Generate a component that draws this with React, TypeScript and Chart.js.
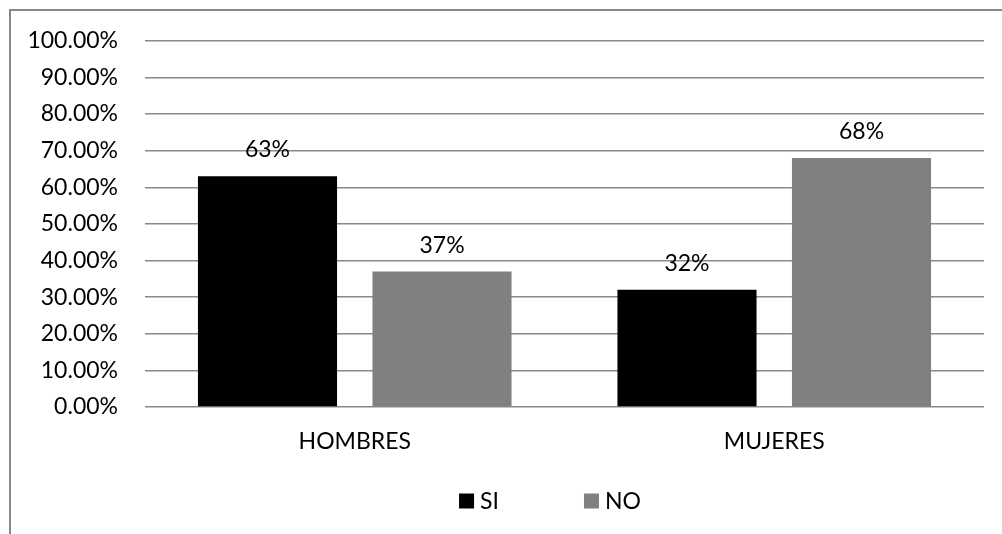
import React, { useEffect, useRef } from "react";
import { Chart, registerables } from "chart.js";

Chart.register(...registerables);

// Chart data
const categories = ["HOMBRES", "MUJERES"];
const seriesNames = ["SI", "NO"];
const siValues = [63, 32];
const noValues = [37, 68];
const seriesColors = ["#000000", "#808080"];
const yTickMax = 100;
const yTickStep = 10;

const FONT = "Lato, 'Open Sans', sans-serif";
const FONT_SIZE = 23;
const TEXT_COLOR = "#000000";
const GRID_COLOR = "#898989";

// Outer frame of the chart (left and top edges)
const framePlugin = {
  id: "frame",
  beforeDraw(chart: any) {
    const { ctx, width, height } = chart;
    ctx.save();
    ctx.strokeStyle = "#878787";
    ctx.lineWidth = 2;
    ctx.beginPath();
    ctx.moveTo(width, 10);
    ctx.lineTo(10, 10);
    ctx.lineTo(10, height);
    ctx.stroke();
    ctx.restore();
  },
};

// Percentage labels above each bar
const valueLabelPlugin = {
  id: "valueLabels",
  afterDatasetsDraw(chart: any) {
    const { ctx } = chart;
    ctx.save();
    ctx.font = `${FONT_SIZE}px ${FONT}`;
    ctx.fillStyle = TEXT_COLOR;
    ctx.textAlign = "center";
    ctx.textBaseline = "alphabetic";
    chart.data.datasets.forEach((ds: any, i: number) => {
      const meta = chart.getDatasetMeta(i);
      meta.data.forEach((bar: any, j: number) => {
        ctx.fillText(`${ds.data[j]}%`, bar.x, bar.y - 19);
      });
    });
    ctx.restore();
  },
};

// Legend row under the axis labels
const legendPlugin = {
  id: "bottomLegend",
  afterDraw(chart: any) {
    const { ctx } = chart;
    const datasets = chart.data.datasets;
    const box = 15;
    const textGap = 6;
    const itemGap = 85;
    const centerX = 550;
    ctx.save();
    ctx.font = `${FONT_SIZE}px ${FONT}`;
    ctx.textBaseline = "middle";
    ctx.textAlign = "left";
    const widths = datasets.map(
      (ds: any) => box + textGap + ctx.measureText(ds.label).width
    );
    const total =
      widths.reduce((a: number, b: number) => a + b, 0) +
      itemGap * (datasets.length - 1);
    let x = centerX - total / 2;
    const y = 501;
    datasets.forEach((ds: any, i: number) => {
      ctx.fillStyle = ds.backgroundColor;
      ctx.fillRect(x, y - box / 2, box, box);
      ctx.fillStyle = TEXT_COLOR;
      ctx.fillText(ds.label, x + box + textGap, y + 1);
      x += widths[i] + itemGap;
    });
    ctx.restore();
  },
};

export default function App() {
  const canvasRef = useRef<HTMLCanvasElement | null>(null);

  useEffect(() => {
    if (!canvasRef.current) return;
    const chart = new Chart(canvasRef.current, {
      type: "bar",
      data: {
        labels: categories,
        datasets: [
          {
            label: seriesNames[0],
            data: siValues,
            backgroundColor: seriesColors[0],
            categoryPercentage: 0.832,
            barPercentage: 0.797,
          },
          {
            label: seriesNames[1],
            data: noValues,
            backgroundColor: seriesColors[1],
            categoryPercentage: 0.832,
            barPercentage: 0.797,
          },
        ],
      },
      options: {
        animation: false,
        responsive: false,
        maintainAspectRatio: false,
        layout: { padding: { left: 0, right: 18, top: 40, bottom: 0 } },
        plugins: {
          legend: { display: false },
          tooltip: { enabled: false },
        },
        scales: {
          x: {
            afterFit(scale: any) {
              scale.height = 127;
            },
            grid: { display: false, drawTicks: false },
            border: { display: false },
            ticks: {
              color: TEXT_COLOR,
              font: { family: FONT, size: FONT_SIZE },
              padding: 21,
            },
          },
          y: {
            min: 0,
            max: yTickMax,
            afterFit(scale: any) {
              scale.width = 145;
            },
            grid: {
              color: GRID_COLOR,
              lineWidth: 1.5,
              drawTicks: false,
            },
            border: { display: false },
            ticks: {
              stepSize: yTickStep,
              color: TEXT_COLOR,
              font: { family: FONT, size: FONT_SIZE },
              padding: 27,
              callback: (v: any) => `${Number(v).toFixed(2)}%`,
            },
          },
        },
      },
      plugins: [framePlugin, valueLabelPlugin, legendPlugin],
    });
    return () => chart.destroy();
  }, []);

  return (
    <div
      style={{
        position: "absolute",
        left: 0,
        top: 0,
        width: 1002,
        height: 534,
        background: "#ffffff",
      }}
    >
      <canvas ref={canvasRef} width={1002} height={534} />
    </div>
  );
}
